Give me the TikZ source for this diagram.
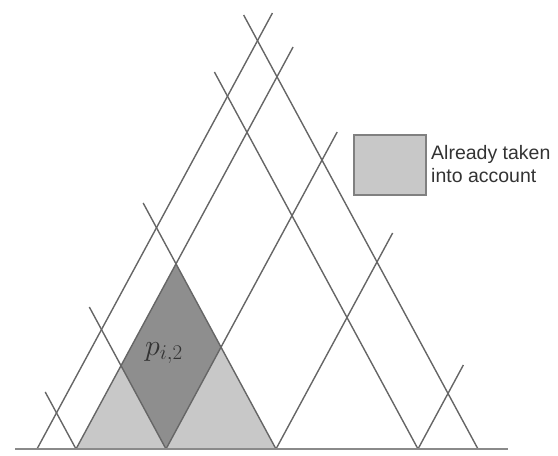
\RequirePackage{fix-cm}
\documentclass[tikz,border=0pt]{standalone}
\usepackage{fontspec}
\setsansfont{Liberation Sans}
\definecolor{lightfill}{HTML}{C8C8C8}
\definecolor{darkfill}{HTML}{8E8E8E}
\definecolor{lattline}{HTML}{666666}
\definecolor{baseline}{HTML}{8A8A8A}
\definecolor{txt}{HTML}{333333}
\tikzset{
  latt/.style={draw=lattline, line width=1.4pt},
  baseln/.style={draw=baseline, line width=2pt},
  legendbox/.style={draw=gray, fill=lightfill, line width=1.2pt},
}
\begin{document}
\begin{tikzpicture}[x=1pt,y=-1pt]
\useasboundingbox (0,0) rectangle (558,456);
% rising lines: foot a, top height h
\foreach \a/\h [count=\i] in {37/436, 76/402, 166/317, 276/216, 418/84} {
  \coordinate (r\i b) at (\a,449);
  \coordinate (r\i t) at ({\a+0.54*\h},{449-\h});
}
% falling lines: foot b, top height h
\foreach \b/\h [count=\i] in {76/57, 166/142, 276/246, 418/377, 478/434} {
  \coordinate (f\i b) at (\b,449);
  \coordinate (f\i t) at ({\b-0.54*\h},{449-\h});
}
\coordinate (dl) at (intersection of r2b--r2t and f2b--f2t);
\coordinate (dt) at (intersection of r2b--r2t and f3b--f3t);
\coordinate (dr) at (intersection of r3b--r3t and f3b--f3t);
% shaded regions
\fill[lightfill] (r2b) -- (dt) -- (f3b) -- cycle;
\fill[darkfill] (r3b) -- (dl) -- (dt) -- (dr) -- cycle;
% lattice lines
\foreach \i in {1,...,5} {
  \draw[latt] (r\i b) -- (r\i t);
  \draw[latt] (f\i b) -- (f\i t);
}
% baseline
\coordinate (bl) at (15,449);
\coordinate (br) at (508,449);
\draw[baseln] (bl) -- (br);
% label
\node[text=txt, font=\fontsize{30}{34}\selectfont] (lab) at (164,353) {$p_{i,2}$};
% legend
\node[legendbox, minimum width=72pt, minimum height=60pt, inner sep=0pt] (leg) at (390,165) {};
\node[anchor=west, align=left, text=txt, inner sep=0pt,
      font=\sffamily\fontsize{19.5}{23}\selectfont] (legtxt) at (431,164) {Already taken\\into account};
\end{tikzpicture}
\end{document}
